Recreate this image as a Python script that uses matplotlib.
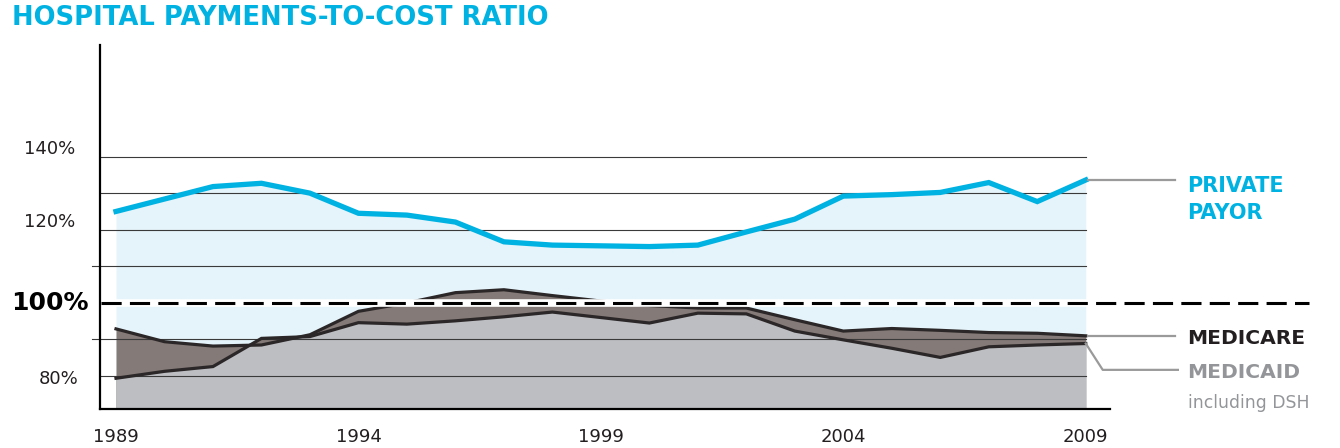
import numpy as np
import matplotlib
matplotlib.use('Agg')
import matplotlib.pyplot as plt

# Data (percent of cost)
years = np.arange(1989, 2010)
private_payor = [125.0, 128.4, 131.8, 132.7, 130.0, 124.5, 124.0, 122.1, 116.7, 115.8,
                 115.6, 115.4, 115.8, 119.4, 122.9, 129.2, 129.6, 130.2, 132.9, 127.7, 133.6]
medicare = [92.9, 89.4, 88.2, 88.5, 91.3, 97.7, 100.0, 102.8, 103.6, 102.0,
            100.5, 99.3, 98.6, 98.6, 95.4, 92.3, 93.0, 92.5, 91.9, 91.7, 91.0]
medicaid = [79.4, 81.3, 82.6, 90.3, 90.8, 94.6, 94.2, 95.1, 96.2, 97.5,
            96.0, 94.5, 97.2, 97.0, 92.3, 89.9, 87.6, 85.1, 88.0, 88.5, 88.9]
tick_years = [1989, 1994, 1999, 2004, 2009]
grid_vals = [80, 90, 110, 120, 130, 140]
ylabels = ['140%', '120%', '100%', '80%']
ylabel_vals = [140, 120, 100, 80]

CYAN = '#00b2e2'
DARK = '#2b2728'
GRAY_TXT = '#939598'
FILL_DARK = '#847a77'

fig = plt.figure(figsize=(13.4, 4.48), dpi=100)
ax = fig.add_axes([100 / 1340, 39 / 448, 1010 / 1340, 364 / 448])
ax.set_xlim(1988.67, 2009.5)
ax.set_ylim(71.0, 170.5)

bottom = 71.0
mc = np.array(medicare)
md = np.array(medicaid)

# fills: light blue under private, dark under medicare, grey under medicaid,
# then dark again where medicaid runs above medicare
ax.fill_between(years, bottom, private_payor, color='#e5f4fa', lw=0, zorder=1)
ax.fill_between(years, bottom, mc, color=FILL_DARK, lw=0, zorder=2)
ax.fill_between(years, bottom, md, color='#bdbec2', lw=0, zorder=2.5)
ax.fill_between(years, mc, md, where=md > mc, interpolate=True, color=FILL_DARK, lw=0, zorder=3)
ax.fill_between(years, bottom, np.minimum(mc, md), where=md > mc, interpolate=True,
                color='#bdbec2', lw=0, zorder=3.1)

# gridlines
for g in grid_vals:
    x0 = 1988.5 if g in (90, 110) else 1988.67
    ax.plot([x0, 2009], [g, g], color='#3a3a3a', lw=0.8, zorder=4, clip_on=False)

# series lines
ax.plot(years, medicaid, color=DARK, lw=2.3, zorder=5, solid_joinstyle='miter')
ax.plot(years, medicare, color=DARK, lw=2.3, zorder=5, solid_joinstyle='miter')

# 100% reference line with white band
ax.plot([1988.7, 2013.6], [100, 100], color='white', lw=5.5, zorder=6, clip_on=False)
ax.plot([1988.7, 2013.6], [100, 100], color='black', lw=2.2, zorder=7, clip_on=False,
        dashes=(6.6, 2.7))

ax.plot(years, private_payor, color=CYAN, lw=3.8, zorder=8, solid_joinstyle='miter')

# spines and ticks
for s in ['top', 'right']:
    ax.spines[s].set_visible(False)
ax.spines['left'].set_linewidth(1.6)
ax.spines['bottom'].set_linewidth(1.6)
ax.spines['left'].set_zorder(9)
ax.spines['bottom'].set_zorder(9)
ax.set_yticks([])
ax.set_xticks(tick_years)
ax.set_xticklabels([str(y) for y in tick_years], fontsize=13, color='#231f20')
ax.tick_params(axis='x', length=0, pad=14)

# y labels
ynudge = [2.0, 2.0, 0.0, -0.8]
for lab, v, dy in zip(ylabels, ylabel_vals, ynudge):
    bold = v == 100
    ax.text(-0.050 if v != 80 else -0.041, v + dy, lab, transform=ax.get_yaxis_transform(),
            ha='center', va='center', fontsize=18 if bold else 13,
            fontweight='bold' if bold else 'normal', color='black' if bold else '#231f20')

# leader lines and series labels
lead = '#9a9a9a'
ax.plot([2009.05, 2010.84], [133.6, 133.6], color=lead, lw=1.6, clip_on=False, zorder=8)
ax.plot([2009.05, 2010.84], [91.0, 91.0], color=lead, lw=1.6, clip_on=False, zorder=8)
ax.plot([2009.0, 2009.35, 2010.9], [88.9, 81.7, 81.7], color=lead, lw=1.6, clip_on=False, zorder=8)

ax.text(2011.1, 132.0, 'PRIVATE', color=CYAN, fontsize=15, fontweight='bold', va='center')
ax.text(2011.1, 124.6, 'PAYOR', color=CYAN, fontsize=15, fontweight='bold', va='center')
ax.text(2011.1, 90.2, 'MEDICARE', color='#231f20', fontsize=14.6, fontweight='bold', va='center')
ax.text(2011.1, 80.9, 'MEDICAID', color=GRAY_TXT, fontsize=14.6, fontweight='bold', va='center')
ax.text(2011.1, 72.7, 'including DSH', color=GRAY_TXT, fontsize=12.4, va='center')

fig.text(12 / 1340, 1 - 18 / 448, 'HOSPITAL PAYMENTS-TO-COST RATIO', color=CYAN,
         fontsize=18.6, fontweight='bold', va='center', ha='left')

fig.savefig('out.png', dpi=100)
